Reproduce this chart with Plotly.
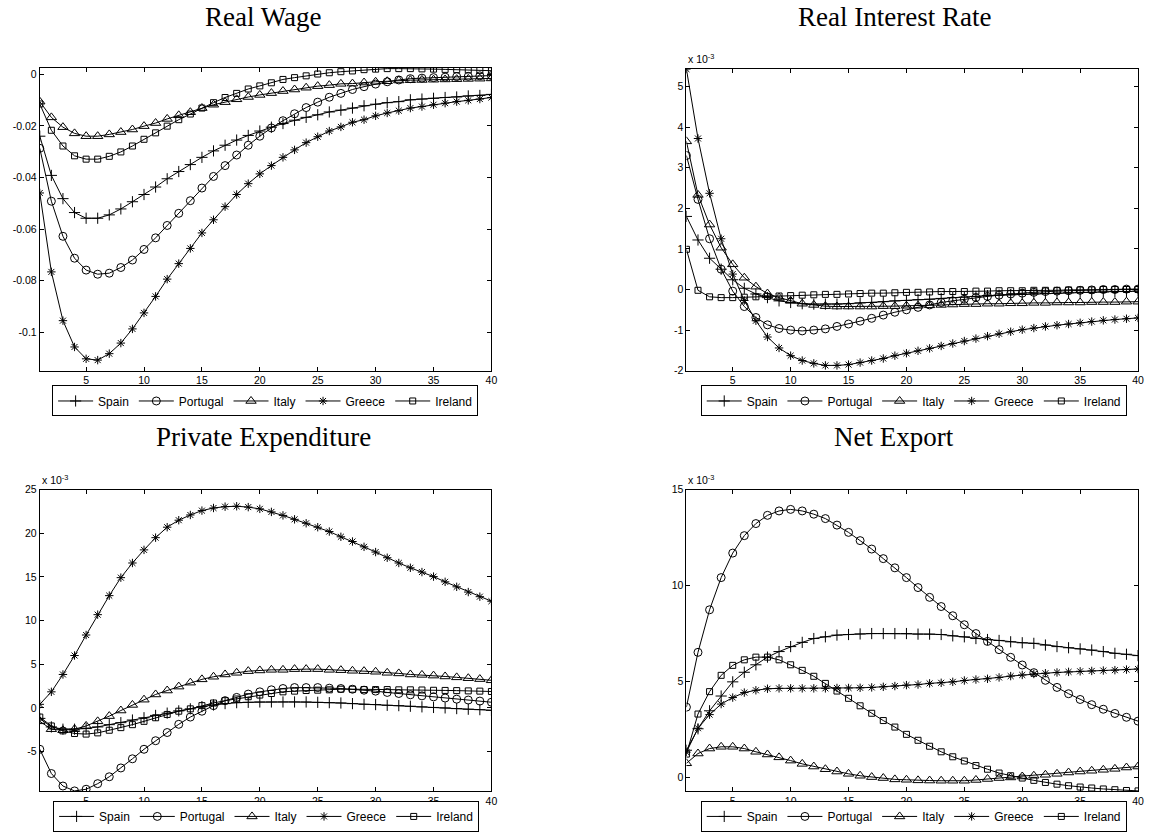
import plotly.graph_objects as go

W, H = 1154, 836

periods = list(range(1, 41))
countries = ["Spain", "Portugal", "Italy", "Greece", "Ireland"]
xticks = [5, 10, 15, 20, 25, 30, 35, 40]

# ---------------- Real Wage ----------------
rw_spain = [-0.024, -0.0392, -0.0482, -0.0536, -0.0558, -0.0558, -0.0545, -0.0522, -0.0494, -0.0466,
            -0.0437, -0.0405, -0.0377, -0.035, -0.0322, -0.0297, -0.0275, -0.0255, -0.0237, -0.022,
            -0.0205, -0.0191, -0.0178, -0.0167, -0.0157, -0.0146, -0.0139, -0.0131, -0.0122, -0.0116,
            -0.011, -0.0106, -0.0099, -0.0096, -0.0093, -0.009, -0.0088, -0.0084, -0.0082, -0.0078]
rw_portugal = [-0.0287, -0.0492, -0.0628, -0.0713, -0.0759, -0.0775, -0.0771, -0.0749, -0.072, -0.0679,
               -0.0634, -0.0586, -0.0539, -0.049, -0.0441, -0.0396, -0.0354, -0.0313, -0.0275, -0.024,
               -0.0208, -0.018, -0.0153, -0.0129, -0.0108, -0.0089, -0.0074, -0.0059, -0.0048, -0.0038,
               -0.0029, -0.0022, -0.0017, -0.0015, -0.0013, -0.0011, -0.0009, -0.0008, -0.0006, -0.0005]
rw_italy = [-0.0106, -0.0167, -0.0205, -0.0229, -0.024, -0.024, -0.0233, -0.0224, -0.0214, -0.0201,
            -0.0189, -0.0173, -0.0159, -0.0147, -0.0131, -0.0118, -0.0108, -0.0097, -0.0088, -0.008,
            -0.0073, -0.0065, -0.0059, -0.0052, -0.0046, -0.0042, -0.0037, -0.0036, -0.0032, -0.0029,
            -0.0027, -0.0024, -0.0023, -0.0022, -0.0021, -0.002, -0.0019, -0.0018, -0.0017, -0.0016]
rw_greece = [-0.046, -0.0766, -0.0955, -0.1057, -0.1103, -0.1108, -0.1083, -0.1042, -0.0987, -0.0925,
             -0.0861, -0.0794, -0.0734, -0.0675, -0.0615, -0.0564, -0.0513, -0.0466, -0.0424, -0.0386,
             -0.0354, -0.0322, -0.0293, -0.0265, -0.0242, -0.022, -0.0204, -0.0186, -0.0176, -0.0161,
             -0.015, -0.0141, -0.0131, -0.0125, -0.0118, -0.0112, -0.0106, -0.0101, -0.0096, -0.009]
rw_ireland = [-0.0115, -0.0217, -0.0278, -0.0316, -0.0329, -0.0329, -0.0318, -0.0301, -0.0278, -0.0252,
              -0.0227, -0.0201, -0.0176, -0.0154, -0.0131, -0.011, -0.009, -0.0074, -0.0057, -0.0045,
              -0.0033, -0.002, -0.0013, -0.0006, 0.0001, 0.0006, 0.001, 0.0013, 0.0018, 0.002,
              0.0022, 0.0022, 0.0022, 0.0021, 0.002, 0.0019, 0.0018, 0.0017, 0.0015, 0.0014]
rw_ticks = [-0.1, -0.08, -0.06, -0.04, -0.02, 0]
rw_ticktext = ["-0.1", "-0.08", "-0.06", "-0.04", "-0.02", "0"]

# ---------------- Real Interest Rate (x 10^-3) ----------------
ri_spain = [1.8, 1.22, 0.77, 0.5, 0.24, 0.03, -0.11, -0.2, -0.28, -0.32,
            -0.35, -0.36, -0.36, -0.36, -0.35, -0.33, -0.32, -0.3, -0.28, -0.27,
            -0.25, -0.24, -0.22, -0.2, -0.19, -0.17, -0.15, -0.14, -0.13, -0.12,
            -0.11, -0.1, -0.09, -0.08, -0.07, -0.07, -0.06, -0.05, -0.05, -0.04]
ri_portugal = [3.3, 2.22, 1.25, 0.5, -0.04, -0.42, -0.69, -0.87, -0.96, -1.0,
               -1.02, -1.0, -0.97, -0.91, -0.85, -0.78, -0.71, -0.63, -0.56, -0.5,
               -0.44, -0.38, -0.32, -0.28, -0.24, -0.2, -0.17, -0.14, -0.11, -0.09,
               -0.07, -0.05, -0.04, -0.03, -0.02, -0.01, 0.0, 0.0, 0.01, 0.01]
ri_italy = [3.65, 2.33, 1.6, 1.03, 0.62, 0.29, 0.07, -0.1, -0.2, -0.28,
            -0.35, -0.38, -0.41, -0.42, -0.42, -0.42, -0.42, -0.41, -0.41, -0.4,
            -0.4, -0.39, -0.38, -0.37, -0.36, -0.36, -0.35, -0.35, -0.34, -0.34,
            -0.33, -0.33, -0.32, -0.32, -0.32, -0.31, -0.31, -0.31, -0.3, -0.3]
ri_greece = [5.43, 3.72, 2.37, 1.25, 0.38, -0.27, -0.77, -1.17, -1.44, -1.63,
             -1.75, -1.82, -1.87, -1.87, -1.85, -1.8, -1.75, -1.7, -1.63, -1.57,
             -1.51, -1.45, -1.39, -1.33, -1.27, -1.21, -1.15, -1.09, -1.04, -0.99,
             -0.95, -0.91, -0.88, -0.85, -0.82, -0.79, -0.76, -0.74, -0.72, -0.7]
ri_ireland = [0.99, -0.02, -0.18, -0.2, -0.2, -0.19, -0.18, -0.17, -0.16, -0.15,
              -0.14, -0.13, -0.12, -0.12, -0.11, -0.1, -0.09, -0.09, -0.08, -0.07,
              -0.07, -0.06, -0.05, -0.05, -0.05, -0.04, -0.04, -0.03, -0.03, -0.03,
              -0.02, -0.02, -0.02, -0.01, -0.01, -0.01, 0.0, 0.0, 0.0, 0.0]
ri_ticks = [-2, -1, 0, 1, 2, 3, 4, 5]
ri_ticktext = ["-2", "-1", "0", "1", "2", "3", "4", "5"]

# ---------------- Private Expenditure (x 10^-3) ----------------
pe_spain = [-1.2, -2.18, -2.44, -2.44, -2.37, -2.18, -1.92, -1.69, -1.39, -1.13,
            -0.86, -0.6, -0.34, -0.11, 0.15, 0.34, 0.49, 0.6, 0.64, 0.68,
            0.68, 0.68, 0.68, 0.68, 0.64, 0.6, 0.56, 0.49, 0.41, 0.38,
            0.3, 0.26, 0.19, 0.12, 0.05, 0.0, -0.08, -0.15, -0.2, -0.28]
pe_portugal = [-4.74, -7.52, -8.95, -9.51, -9.32, -8.68, -7.89, -6.88, -5.83, -4.74,
               -3.76, -2.82, -1.88, -1.05, -0.38, 0.26, 0.83, 1.2, 1.58, 1.84,
               2.07, 2.22, 2.33, 2.33, 2.33, 2.26, 2.22, 2.14, 2.03, 1.92,
               1.77, 1.65, 1.5, 1.38, 1.26, 1.13, 1.0, 0.9, 0.78, 0.65]
pe_italy = [-1.54, -2.44, -2.56, -2.44, -2.07, -1.54, -0.94, -0.3, 0.34, 0.94,
            1.54, 1.99, 2.44, 2.89, 3.27, 3.57, 3.83, 4.02, 4.21, 4.29,
            4.36, 4.36, 4.44, 4.44, 4.44, 4.36, 4.32, 4.25, 4.21, 4.14,
            4.02, 3.95, 3.83, 3.78, 3.7, 3.6, 3.5, 3.4, 3.3, 3.16]
pe_greece = [0.41, 1.84, 3.83, 6.0, 8.35, 10.68, 12.86, 14.92, 16.6, 18.1,
             19.5, 20.7, 21.5, 22.1, 22.6, 22.9, 23.05, 23.1, 23.0, 22.8,
             22.45, 22.05, 21.6, 21.15, 20.7, 20.2, 19.6, 19.06, 18.45, 17.85,
             17.2, 16.6, 16.05, 15.56, 15.04, 14.44, 13.87, 13.27, 12.74, 12.22]
pe_ireland = [-1.05, -2.07, -2.63, -2.93, -3.0, -2.86, -2.56, -2.26, -1.92, -1.54,
              -1.13, -0.75, -0.38, -0.11, 0.26, 0.56, 0.83, 1.02, 1.28, 1.47,
              1.65, 1.84, 1.92, 1.99, 2.03, 2.07, 2.14, 2.14, 2.1, 2.1,
              2.1, 2.07, 2.07, 2.05, 2.02, 2.0, 1.98, 1.95, 1.92, 1.88]
pe_ticks = [-5, 0, 5, 10, 15, 20, 25]
pe_ticktext = ["-5", "0", "5", "10", "15", "20", "25"]

# ---------------- Net Export (x 10^-3) ----------------
ne_spain = [1.4, 2.52, 3.46, 4.23, 4.97, 5.47, 5.86, 6.26, 6.55, 6.81,
            7.03, 7.23, 7.32, 7.41, 7.44, 7.47, 7.49, 7.49, 7.49, 7.49,
            7.46, 7.46, 7.44, 7.37, 7.32, 7.23, 7.18, 7.13, 7.06, 7.01,
            6.98, 6.89, 6.81, 6.75, 6.69, 6.63, 6.55, 6.46, 6.41, 6.34]
ne_portugal = [3.65, 6.51, 8.73, 10.41, 11.69, 12.6, 13.23, 13.66, 13.89, 13.97,
               13.89, 13.72, 13.49, 13.15, 12.77, 12.34, 11.9, 11.4, 10.92, 10.41,
               9.89, 9.38, 8.9, 8.42, 7.95, 7.49, 7.08, 6.65, 6.25, 5.85,
               5.45, 5.05, 4.68, 4.35, 4.05, 3.78, 3.54, 3.32, 3.12, 2.92]
ne_italy = [0.72, 1.23, 1.49, 1.58, 1.58, 1.49, 1.32, 1.18, 1.03, 0.86,
            0.69, 0.55, 0.41, 0.29, 0.17, 0.07, 0.0, -0.05, -0.12, -0.14,
            -0.17, -0.18, -0.19, -0.19, -0.19, -0.15, -0.1, -0.05, -0.02, 0.03,
            0.07, 0.12, 0.17, 0.24, 0.29, 0.33, 0.38, 0.43, 0.5, 0.55]
ne_greece = [1.3, 2.55, 3.26, 3.81, 4.15, 4.41, 4.53, 4.61, 4.63, 4.63,
             4.63, 4.63, 4.63, 4.65, 4.65, 4.66, 4.68, 4.71, 4.75, 4.8,
             4.83, 4.89, 4.92, 4.97, 5.04, 5.09, 5.13, 5.2, 5.27, 5.33,
             5.38, 5.42, 5.46, 5.49, 5.52, 5.54, 5.56, 5.58, 5.61, 5.64]
ne_ireland = [1.2, 3.29, 4.46, 5.31, 5.83, 6.12, 6.26, 6.26, 6.12, 5.86,
              5.57, 5.26, 4.89, 4.49, 4.11, 3.72, 3.33, 2.95, 2.61, 2.23,
              1.92, 1.61, 1.32, 1.06, 0.84, 0.6, 0.41, 0.21, 0.07, -0.05,
              -0.17, -0.28, -0.37, -0.45, -0.52, -0.57, -0.62, -0.66, -0.7, -0.72]
ne_ticks = [0, 5, 10, 15]
ne_ticktext = ["0", "5", "10", "15"]

titles = ["Real Wage", "Real Interest Rate", "Private Expenditure", "Net Export"]

panels = [
    dict(series=[rw_spain, rw_portugal, rw_italy, rw_greece, rw_ireland],
         yrange=[-0.1149, 0.0024], tv=rw_ticks, tt=rw_ticktext, scale=False,
         box=(40, 63, 494, 370), title_xy=(265, 11), legend_box=(266.5, 385)),
    dict(series=[ri_spain, ri_portugal, ri_italy, ri_greece, ri_ireland],
         yrange=[-2.0, 5.43], tv=ri_ticks, tt=ri_ticktext, scale=True,
         box=(690, 64, 1144, 370), title_xy=(899, 11), legend_box=(918.5, 385)),
    dict(series=[pe_spain, pe_portugal, pe_italy, pe_greece, pe_ireland],
         yrange=[-9.55, 25], tv=pe_ticks, tt=pe_ticktext, scale=True,
         box=(40, 490.7, 494, 796.7), title_xy=(264.5, 437.5), legend_box=(267.5, 806.5)),
    dict(series=[ne_spain, ne_portugal, ne_italy, ne_greece, ne_ireland],
         yrange=[-0.74, 15], tv=ne_ticks, tt=ne_ticktext, scale=True,
         box=(690, 490.7, 1144, 796.7), title_xy=(898.5, 437.5), legend_box=(918.5, 806.5)),
]

markers = [
    dict(symbol="cross-thin-open", size=8),
    dict(symbol="circle-open", size=8),
    dict(symbol="triangle-up-open", size=9),
    dict(symbol="asterisk-open", size=7),
    dict(symbol="square-open", size=6),
]

fig = go.Figure()
annotations = []
layout = {}
tickfont = dict(family="Liberation Sans, Arial, sans-serif", size=10.5, color="black")

for i, p in enumerate(panels):
    k = "" if i == 0 else str(i + 1)
    leg = "legend" + k
    x0, y0, x1, y1 = p["box"]
    for name, vals, m in zip(countries, p["series"], markers):
        fig.add_trace(go.Scatter(
            x=periods, y=vals, name=name, mode="lines+markers",
            line=dict(color="black", width=1),
            marker=dict(symbol=m["symbol"], size=m["size"], color="black",
                        line=dict(color="black", width=1)),
            xaxis="x" + k, yaxis="y" + k, legend=leg,
        ))
    axcommon = dict(showline=True, linecolor="black", linewidth=1, mirror="ticks",
                    ticks="inside", ticklen=4, tickwidth=1, tickcolor="black",
                    showgrid=False, zeroline=False, tickfont=tickfont)
    layout["xaxis" + k] = dict(domain=[x0 / W, x1 / W], range=[1, 40], tickvals=xticks,
                               anchor="y" + k, **axcommon)
    layout["yaxis" + k] = dict(domain=[1 - y1 / H, 1 - y0 / H], range=p["yrange"],
                               tickvals=p["tv"], ticktext=p["tt"], anchor="x" + k, **axcommon)
    lx, ly = p["legend_box"]
    layout[leg] = dict(orientation="h", x=lx / W, xanchor="center", y=1 - ly / H, yanchor="top",
                       bordercolor="black", borderwidth=1, bgcolor="white", itemwidth=35,
                       font=dict(family="Liberation Sans, Arial, sans-serif", size=12, color="black"),
                       tracegroupgap=0)
    tx, ty = p["title_xy"]
    annotations.append(dict(text=titles[i], x=tx / W, y=1 - ty / H, xref="paper", yref="paper",
                            xanchor="center", yanchor="middle", showarrow=False,
                            font=dict(family="Liberation Serif, serif", size=27, color="black")))
    if p["scale"]:
        annotations.append(dict(text="x 10<sup>-3</sup>", x=x0 / W, y=1 - (y0 - 2) / H,
                                xref="paper", yref="paper", xanchor="left", yanchor="bottom",
                                showarrow=False,
                                font=dict(family="Liberation Sans, Arial, sans-serif", size=10.5,
                                          color="black")))

fig.update_layout(width=W, height=H, margin=dict(l=0, r=0, t=0, b=0),
                  paper_bgcolor="white", plot_bgcolor="white",
                  annotations=annotations, **layout)

fig.write_html("out.html", config={"displayModeBar": False},
               post_script="document.body.style.margin='0';document.body.style.overflow='hidden';")
